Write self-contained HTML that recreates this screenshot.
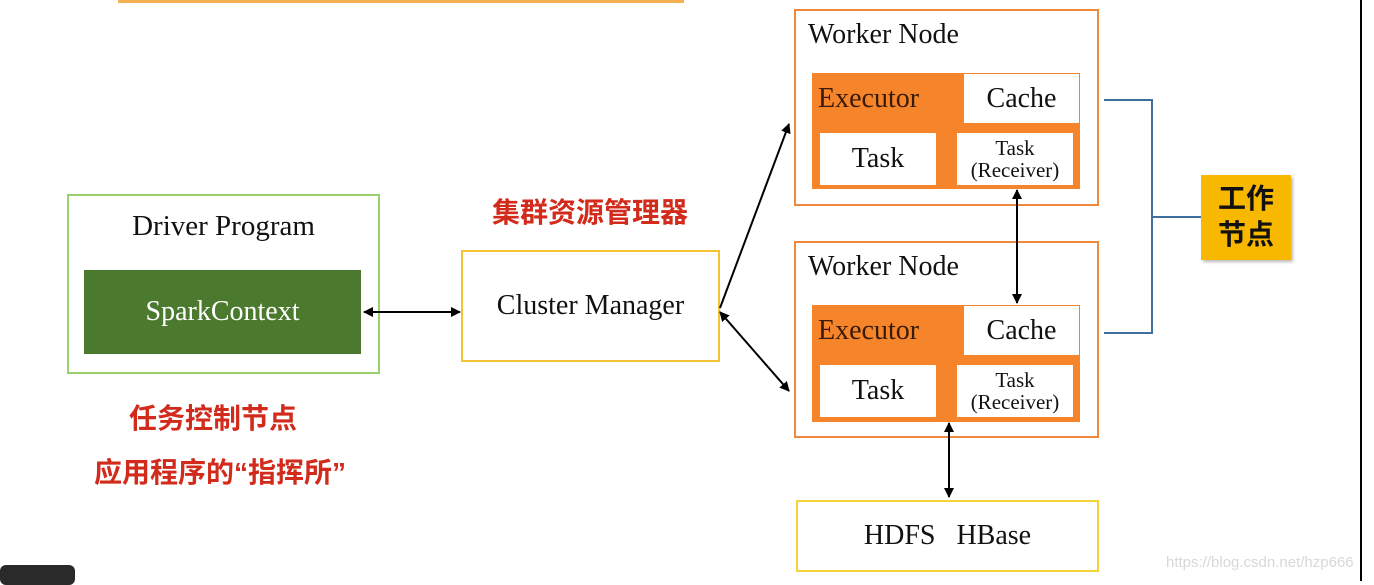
<!DOCTYPE html><html><head><meta charset="utf-8"><style>
body{margin:0;width:1374px;height:581px;background:#fff;position:relative;overflow:hidden;font-family:"Liberation Serif",serif;}
div{position:absolute;box-sizing:border-box;}
.t{white-space:nowrap;text-align:center;}
.red{color:#d22b1c;font-family:"Liberation Sans","Noto Sans CJK SC",sans-serif;font-weight:bold;font-size:28px;}
.wn{border:2px solid #ef8a3c;background:#fff;}
.inner{background:#f5842b;}
.w{background:#fff;color:#111;display:flex;align-items:center;justify-content:center;text-align:center;line-height:1.05;}
</style></head><body>
<div style="left:118px;top:0;width:566px;height:3px;background:#f5b052"></div>
<div style="left:1360px;top:0;width:2px;height:581px;background:#000"></div>
<div style="left:0;top:565px;width:75px;height:20px;background:#2a2a2a;border-radius:6px"></div>

<div style="left:67px;top:194px;width:313px;height:180px;border:2px solid #9ccf6e"></div>
<div class="t" style="left:67px;top:210px;width:313px;font-size:29px;color:#111">Driver Program</div>
<div style="left:84px;top:270px;width:277px;height:84px;background:#4b7a2f;color:#fff;font-size:28px;display:flex;align-items:center;justify-content:center">SparkContext</div>

<div style="left:461px;top:250px;width:259px;height:112px;border:2px solid #f6c232;display:flex;align-items:center;justify-content:center;font-size:28px;color:#111">Cluster Manager</div>
<div class="t red" style="left:440px;top:191px;width:300px">集群资源管理器</div>
<div class="t red" style="left:63px;top:397px;width:300px">任务控制节点</div>
<div class="t red" style="left:40px;top:451px;width:360px">应用程序的“指挥所”</div>

<div class="wn" style="left:794px;top:9px;width:305px;height:197px"></div>
<div style="left:808px;top:19px;font-size:28px;color:#111">Worker Node</div>
<div class="inner" style="left:812px;top:73px;width:268px;height:116px"></div>
<div style="left:818px;top:83px;font-size:28px;color:#3a1a08">Executor</div>
<div class="w" style="left:964px;top:74px;width:115px;height:49px;font-size:28px">Cache</div>
<div class="w" style="left:820px;top:133px;width:116px;height:52px;font-size:28px">Task</div>
<div class="w" style="left:957px;top:133px;width:116px;height:52px;font-size:21px">Task<br>(Receiver)</div>

<div class="wn" style="left:794px;top:241px;width:305px;height:197px"></div>
<div style="left:808px;top:251px;font-size:28px;color:#111">Worker Node</div>
<div class="inner" style="left:812px;top:305px;width:268px;height:117px"></div>
<div style="left:818px;top:315px;font-size:28px;color:#3a1a08">Executor</div>
<div class="w" style="left:964px;top:306px;width:115px;height:49px;font-size:28px">Cache</div>
<div class="w" style="left:820px;top:365px;width:116px;height:52px;font-size:28px">Task</div>
<div class="w" style="left:957px;top:365px;width:116px;height:52px;font-size:21px">Task<br>(Receiver)</div>

<div style="left:796px;top:500px;width:303px;height:72px;border:2px solid #f6d23a;display:flex;align-items:center;justify-content:center;font-size:28px;color:#111;word-spacing:14px">HDFS HBase</div>

<div style="left:1201px;top:175px;width:90px;height:85px;background:#f9b800;color:#111;font-family:'Liberation Sans','Noto Sans CJK SC',sans-serif;font-weight:bold;font-size:28px;line-height:36px;text-align:center;padding-top:6px;box-shadow:2px 2px 3px #bbb">工作<br>节点</div>
<div class="t" style="left:1166px;top:554px;font-family:'Liberation Sans',sans-serif;font-size:15px;color:#d8d8d8">https://blog.csdn.net/hzp666</div>

<svg width="1374" height="581" style="position:absolute;left:0;top:0">
<defs><marker id="a" markerWidth="10" markerHeight="10" refX="9" refY="5" orient="auto-start-reverse" markerUnits="userSpaceOnUse"><path d="M0,0L10,5L0,10z" fill="#000"/></marker></defs>
<g stroke="#000" stroke-width="2" fill="none">
<line x1="364" y1="312" x2="460" y2="312" marker-start="url(#a)" marker-end="url(#a)"/>
<line x1="720" y1="308" x2="789" y2="124" marker-end="url(#a)"/>
<line x1="720" y1="312" x2="789" y2="391" marker-start="url(#a)" marker-end="url(#a)"/>
<line x1="1017" y1="190" x2="1017" y2="303" marker-start="url(#a)" marker-end="url(#a)"/>
<line x1="949" y1="423" x2="949" y2="497" marker-start="url(#a)" marker-end="url(#a)"/>
</g>
<g stroke="#3f6f9f" stroke-width="2" fill="none">
<polyline points="1104,100 1152,100 1152,333 1104,333"/>
<line x1="1152" y1="217" x2="1201" y2="217"/>
</g>
</svg>
</body></html>
